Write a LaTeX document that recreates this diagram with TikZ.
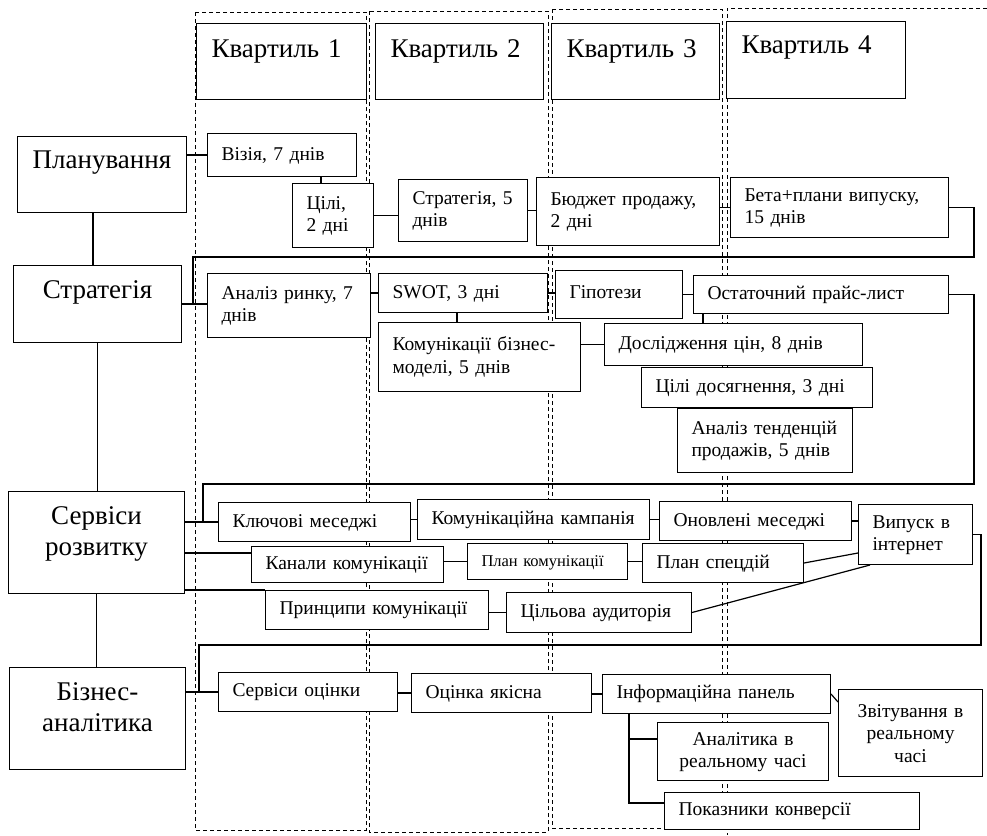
\documentclass[tikz,border=0pt]{standalone}
\usepackage{fontspec}
\setmainfont{Liberation Serif}
\newcommand\bigtext{\fontsize{27}{31}\selectfont}
\newcommand\smalltext{\fontsize{19.5}{22.5}\selectfont}
\newcommand\tinytext{\fontsize{16.5}{19}\selectfont}
\begin{document}
\begin{tikzpicture}[
x=1pt, y=-1pt,
lane/.style={dash pattern=on 4pt off 3pt,line width=1pt},
quart/.style={rectangle,draw,fill=white,line width=1pt,anchor=north west,
  align=left,inner xsep=15pt,inner ysep=0pt,text height=34pt,text depth=42pt,font=\bigtext},
block/.style={rectangle,draw,fill=white,line width=1pt,anchor=north west,
  align=center,inner xsep=0pt,inner ysep=0pt,text height=33pt,font=\bigtext},
task/.style={rectangle,draw,fill=white,line width=1pt,anchor=north west,
  align=left,inner xsep=14pt,inner ysep=0pt,text height=14pt,font=\smalltext},
link/.style={line width=1.2pt}
]
\useasboundingbox (0,0) rectangle (987,835);

\draw[lane] (195,12) rectangle (366,830);
\draw[lane] (369,11) rectangle (548,832);
\draw[lane] (552,9) rectangle (722,828);
\draw[lane] (987,8) -- (727,8) -- (727,835);

\node[quart,text width=140pt] (q1) at (196,23) {Квартиль 1};
\node[quart,text width=138pt] (q2) at (375,23) {Квартиль 2};
\node[quart,text width=138pt] (q3) at (551,23) {Квартиль 3};
\node[quart,text width=149pt,text height=32pt,text depth=45pt] (q4) at (726,21) {Квартиль 4};

\node[block,text width=169pt,text height=32pt,text depth=44pt] (plan) at (17,136) {Планування};
\node[block,text width=168pt,text depth=44pt] (strat) at (13,265) {Стратегія};
\node[block,text width=176pt,text depth=69pt] (serv) at (8,491) {Сервіси\\розвитку};
\node[block,text width=176pt,text depth=69pt] (bizn) at (9,667) {Бізнес-\\аналітика};

\node[task,text width=121pt,minimum height=43pt] (viz) at (207,133) {Візія, 7 днів};
\node[task,text width=53pt,minimum height=64pt] (cili) at (292,183) {Цілі,\\2 дні};
\node[task,text width=101pt,minimum height=62pt] (str5) at (398,179) {Стратегія,~5\\днів};
\node[task,text width=155pt,minimum height=68pt] (budg) at (536,177) {Бюджет продажу,\\2 дні};
\node[task,text width=190pt,minimum height=60pt] (beta) at (730,177) {Бета+плани випуску,\\15 днів};

\node[task,text width=135pt,minimum height=64pt] (anal) at (207,273) {Аналіз ринку,~7\\днів};
\node[task,text width=141pt,minimum height=39pt] (swot) at (378,273) {SWOT, 3 дні};
\node[task,text width=174pt,minimum height=69pt] (komb) at (378,322) {Комунікації бізнес-\\моделі, 5 днів};
\node[task,text width=99pt,minimum height=48pt,text height=8pt] (hyp) at (555,270) {Гіпотези};
\node[task,text width=227pt,minimum height=38pt] (price) at (693,275) {Остаточний прайс-лист};
\node[task,text width=230pt,minimum height=42pt] (doslid) at (604,323) {Дослідження цін, 8 днів};
\node[task,text width=203pt,minimum height=40pt] (cilid) at (641,367) {Цілі досягнення, 3 дні};
\node[task,text width=147pt,minimum height=64pt] (trend) at (677,408) {Аналіз тенденцій\\продажів, 5 днів};

\node[task,text width=164pt,minimum height=39pt] (keymsg) at (218,502) {Ключові меседжі};
\node[task,text width=204pt,minimum height=40pt] (kamp) at (417,499) {Комунікаційна кампанія};
\node[task,text width=164pt,minimum height=39pt] (upd) at (659,501) {Оновлені меседжі};
\node[task,text width=86pt,minimum height=60pt] (release) at (858,504) {Випуск в\\інтернет};
\node[task,text width=164pt,minimum height=36pt] (chan) at (251,546) {Канали комунікації};
\node[task,text width=132pt,minimum height=36pt,font=\tinytext] (complan) at (467,543) {План комунікації};
\node[task,text width=133pt,minimum height=39pt] (spec) at (642,543) {План спецдій};
\node[task,text width=195pt,minimum height=39pt] (princ) at (265,590) {Принципи комунікації};
\node[task,text width=157pt,minimum height=40pt] (audience) at (506,592) {Цільова аудиторія};

\node[task,text width=151pt,minimum height=39pt] (evalsrv) at (218,672) {Сервіси оцінки};
\node[task,text width=152pt,minimum height=39pt] (qual) at (411,673) {Оцінка якісна};
\node[task,text width=200pt,minimum height=39pt] (panel) at (602,674) {Інформаційна панель};
\node[task,align=center,inner xsep=0pt,text width=144pt,minimum height=87pt] (report) at (838,689) {Звітування в\\реальному\\часі};
\node[task,align=center,inner xsep=0pt,text width=171pt,minimum height=58pt] (rtan) at (657,722) {Аналітика в\\реальному часі};
\node[task,text width=227pt,minimum height=37pt] (conv) at (664,792) {Показники конверсії};

\draw[link] (plan.south -| 93,0) -- (strat.north -| 93,0);
\draw[link] (strat.south) -- (strat.south |- serv.north);
\draw[link] (serv.south) -- (serv.south |- bizn.north);

\draw[link] (viz.west) -- (viz.west -| plan.east);
\draw[link] (viz.south -| 321,0) -- (cili.north -| 321,0);
\draw[link] (cili.east) -- (cili.east -| str5.west);
\draw[link] (str5.east) -- (str5.east -| budg.west);
\draw[link] (beta.west) -- (beta.west -| budg.east);
\draw[link] (beta.east) -| (974,257) -| (strat.east -| 193,0);

\draw[link] (strat.east) -- (strat.east -| anal.west);
\draw[link] (swot.west) -- (swot.west -| anal.east);
\draw[link] (swot.south -| 457,0) -- (komb.north -| 457,0);
\draw[link] (swot.east) -- (swot.east -| hyp.west);
\draw[link] (hyp.east) -- (hyp.east -| price.west);
\draw[link] (doslid.west) -- (doslid.west -| komb.east);
\draw[link] (price.south -| 703,0) -- (doslid.north -| 703,0);
\draw[link] (price.east) -| (974,484) -| (keymsg.west -| 203,0);

\draw[link] (keymsg.west) -- (keymsg.west -| serv.east);
\draw[link] (kamp.west) -- (kamp.west -| keymsg.east);
\draw[link] (kamp.east) -- (kamp.east -| upd.west);
\draw[link] (upd.east) -- (upd.east -| release.west);
\draw[link] (release.east) -| (981,645) -| (evalsrv.west -| 199,0);
\draw[link] (serv.east |- 0,553) -- (chan.west |- 0,553);
\draw[link] (complan.west) -- (complan.west -| chan.east);
\draw[link] (complan.east) -- (complan.east -| spec.west);
\draw[link] (spec.east) -- (release.west |- 0,553);
\draw[link] (princ.north west) -- (princ.north west -| serv.east);
\draw[link] (audience.west) -- (audience.west -| princ.east);
\draw[link] (audience.east) -- (release.south -| 870,0);

\draw[link] (evalsrv.west) -- (evalsrv.west -| bizn.east);
\draw[link] (qual.west) -- (qual.west -| evalsrv.east);
\draw[link] (panel.west) -- (panel.west -| qual.east);
\draw[link] (panel.east) -- (report.west |- 0,702);
\draw[link] (panel.south -| 629,0) |- (conv.west |- 0,803);
\draw[link] (panel.south -| 629,0) |- (rtan.west |- 0,739);
\end{tikzpicture}
\end{document}
